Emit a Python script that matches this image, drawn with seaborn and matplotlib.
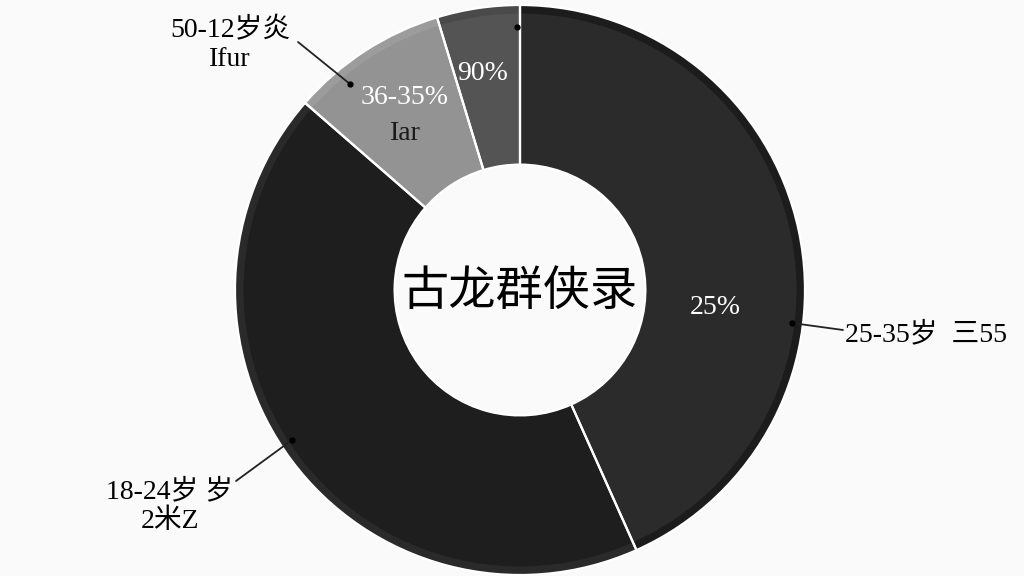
import matplotlib
matplotlib.use("Agg")
import matplotlib.pyplot as plt
import seaborn as sns

sns.set_theme(style="white")
plt.rcParams['font.family'] = ['Liberation Serif', 'Noto Sans CJK SC', 'DejaVu Sans']

# data
categories = ["25-35岁", "18-24岁", "36-55岁", "50-12岁"]
values = [43.3, 43.1, 8.9, 4.7]
slice_colors = ["#2b2b2b", "#1e1e1e", "#939393", "#545454"]
rim_colors = ["#1c1c1c", "#2a2a2a", "#9c9c9c", "#4a4a4a"]
outer_labels = ["25-35岁  三55", "18-24岁 岁\n2米Z", "", "50-12岁炎\nIfur"]
inner_labels = ["25%", "", "36-35%", "90%"]
center_title = "古龙群侠录"

W, H = 1024, 576
cx, cy, R = 520, 290, 285
fig = plt.figure(figsize=(W / 100, H / 100), dpi=100)
fig.patch.set_facecolor("#fafafa")
ax = fig.add_axes([(cx - R) / W, (H - cy - R) / H, 2 * R / W, 2 * R / H])
ax.set_facecolor("none")

def P(px, py):
    return ((px - cx) / R, (cy - py) / R)

ax.pie(values, colors=slice_colors, startangle=90, counterclock=False,
       radius=1.0, wedgeprops=dict(width=0.56, edgecolor="none", linewidth=0))
ax.pie(values, colors=rim_colors, startangle=90, counterclock=False,
       radius=1.0, wedgeprops=dict(width=0.03, edgecolor="none", linewidth=0))
ax.pie(values, colors=["none"] * 4, startangle=90, counterclock=False,
       radius=1.0, wedgeprops=dict(width=0.56, edgecolor="white", linewidth=1.6, fill=False))
ax.set_xlim(-1, 1)
ax.set_ylim(-1, 1)
ax.set_aspect("equal")
ax.axis("off")

fs = 20
# center title
ax.text(*P(520, 292), center_title, ha="center", va="center", fontsize=34,
        color="black", family=['Noto Sans CJK SC'])

# inner labels
ax.text(*P(715, 307), inner_labels[0], ha="center", va="center", fontsize=fs, color="white")
ax.text(*P(405, 98), inner_labels[2], ha="center", va="center", fontsize=fs, color="white")
ax.text(*P(405, 133), "Iar", ha="center", va="center", fontsize=fs, color="#1a1a1a")
ax.text(*P(483, 74), inner_labels[3], ha="center", va="center", fontsize=fs, color="white")

# outer labels with leader lines
def leader(p_dot, p_end, text, p_text, ha):
    x0, y0 = P(*p_dot)
    x1, y1 = P(*p_end)
    ax.plot([x0, x1], [y0, y1], color="#222222", lw=1.3, clip_on=False)
    ax.plot([x0], [y0], "o", color="black", ms=3.5, clip_on=False)
    ax.text(*P(*p_text), text, ha=ha, va="center", fontsize=fs, color="black",
            linespacing=1.2, clip_on=False)

leader((792, 323), (843, 330), outer_labels[0], (845, 334), "left")
leader((292, 440), (236, 481), outer_labels[1], (170, 506), "center")
leader((350, 84), (298, 42), outer_labels[3], (230, 45), "center")
x0, y0 = P(517, 27)
ax.plot([x0], [y0], "o", color="black", ms=3.5, clip_on=False)

fig.savefig("out.png", dpi=100, facecolor=fig.get_facecolor())
